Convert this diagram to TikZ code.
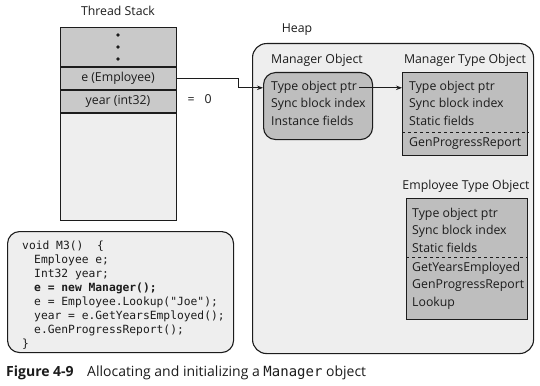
\documentclass[tikz,border=0pt]{standalone}
\usepackage{fontspec}
\setmainfont{Open Sans}
\setmonofont{DejaVu Sans Mono}
\usetikzlibrary{arrows.meta,positioning}
\definecolor{FigInk}{HTML}{1C1C1C}
\definecolor{FigCell}{HTML}{C9C9C9}
\definecolor{FigPale}{HTML}{EEEEEE}
\definecolor{FigBox}{HTML}{BEBEBE}
\tikzset{
  every node/.style={font=\fontsize{12.3}{17}\selectfont, text=FigInk},
  cell/.style={draw=FigInk, line width=1pt, fill=FigCell, minimum width=116pt, inner sep=0pt, anchor=north},
  heapzone/.style={draw=FigInk, line width=1.1pt, fill=FigPale, rounded corners=14pt, anchor=north west},
  objbox/.style={draw=FigInk, line width=1.1pt, fill=FigBox, rounded corners=12pt, anchor=north west},
  typebox/.style={draw=FigInk, line width=1.1pt, fill=FigBox, anchor=north west},
  codebox/.style={draw=FigInk, line width=1.1pt, fill=FigPale, rounded corners=12pt, anchor=north west},
  divider/.style={draw=FigInk, line width=0.9pt, dashed},
  field/.style={anchor=base west, inner sep=0pt},
  codeline/.style={anchor=base west, inner sep=0pt, font=\ttfamily\fontsize{11.3}{14}\selectfont},
  caption/.style={anchor=base west, inner sep=0pt, font=\fontsize{14}{16}\selectfont},
  pointer/.style={-{Stealth[length=6pt,width=4.5pt]}, draw=FigInk, line width=1pt},
}
\begin{document}
\begin{tikzpicture}[x=1pt, y=-1pt]
  \useasboundingbox[fill=white] (0,0) rectangle (540,385);
  % Thread stack
  \node (stackLabel) at (118,11) {Thread Stack};
  \node[cell, minimum height=39pt] (slotDots) at (118,27) {};
  \node[cell, minimum height=22pt, below=0pt of slotDots] (slotE) {e (Employee)};
  \node[cell, minimum height=22pt, below=0pt of slotE] (slotYear) {year (int32)};
  \node[cell, minimum height=107pt, fill=FigPale, below=0pt of slotYear] (slotFree) {};
  \foreach \y in {35,47,59} {
    \fill[FigInk] (118,\y) circle [radius=1.8pt];
  }
  \node[anchor=west] (yearValue) at (184,99) {=\hspace{10pt}0};
  % Heap
  \node (heapLabel) at (297,30) {Heap};
  \node[heapzone, minimum width=281pt, minimum height=310pt] (heap) at (252,43) {};
  % Manager object
  \node (mgrLabel) at (317,60) {Manager Object};
  \node[objbox, minimum width=109pt, minimum height=67pt] (mgrObj) at (263,72) {};
  \foreach \txt [count=\i] in {Type object ptr, Sync block index, Instance fields}
    \node[field] (mgrRow\i) at (271,74+17*\i) {\txt};
  % Manager type object
  \node (mgrTypeLabel) at (465,60) {Manager Type Object};
  \node[typebox, minimum width=125pt, minimum height=83pt] (mgrType) at (402,72) {};
  \foreach \txt [count=\i] in {Type object ptr, Sync block index, Static fields}
    \node[field] (mgrTypeRow\i) at (409,74+17*\i) {\txt};
  \draw[divider] (mgrType.west |- 0,132) -- (mgrType.east |- 0,132);
  \node[field] (mgrTypeMethod) at (409,146) {GenProgressReport};
  % Employee type object
  \node (empTypeLabel) at (466,186) {Employee Type Object};
  \node[typebox, minimum width=121pt, minimum height=121pt] (empType) at (406,198) {};
  \foreach \txt [count=\i] in {Type object ptr, Sync block index, Static fields}
    \node[field] (empTypeRow\i) at (412,199.5+17.5*\i) {\txt};
  \draw[divider] (empType.west |- 0,257) -- (empType.east |- 0,257);
  \foreach \txt [count=\i] in {GetYearsEmployed, GenProgressReport, Lookup}
    \node[field] (empTypeMethod\i) at (412,253.5+17.5*\i) {\txt};
  % Pointers
  \draw[pointer] (slotE.east) -- ++(62,0) |- (mgrObj.west |- mgrRow1.east);
  \draw[pointer] ([xshift=2pt]mgrRow1.east) -- (mgrType.west |- mgrRow1.east);
  % Source code
  \node[codebox, minimum width=226pt, minimum height=121pt] (codeBox) at (7,231) {};
  \foreach \x/\txt [count=\i] in {22/void M3()\ \ \{, 34/Employee e;, 34/Int32 year;,
      34/\textbf{e = new Manager();}, 34/e = Employee.Lookup("Joe");,
      34/year = e.GetYearsEmployed();, 34/e.GenProgressReport();, 22/\}}
    \node[codeline] (code\i) at (\x,235+14.1*\i) {\txt};
  % Caption
  \node[caption, font=\bfseries\fontsize{14}{16}\selectfont] (capNum) at (6,376) {Figure 4-9};
  \node[caption] (capText) at (87,376)
    {Allocating and initializing a \texttt{Manager} object};
\end{tikzpicture}
\end{document}
